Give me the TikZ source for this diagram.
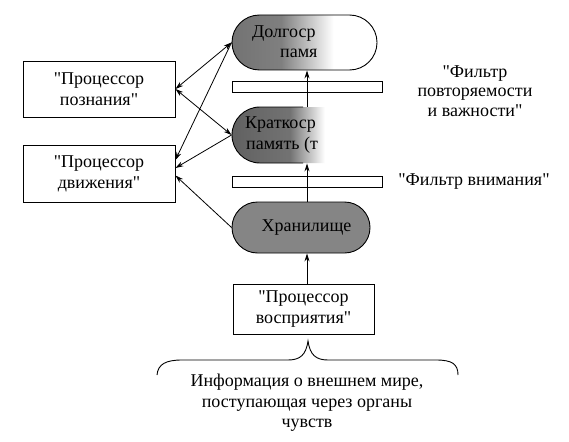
\documentclass[tikz,border=0pt]{standalone}
\usepackage{fontspec}
\setmainfont{LiberationSerif}[Extension=.ttf, UprightFont=*-Regular, BoldFont=*-Bold]
\newfontfamily\diagserif{LiberationSerif}[Extension=.ttf, UprightFont=*-Regular, BoldFont=*-Bold]
\usetikzlibrary{shapes.misc,arrows.meta}
\newcommand\mydiagfont{\diagserif\fontsize{18}{21}\selectfont}
\newcommand\qq{\textquotedbl}
\pgfdeclarehorizontalshading{fadeA}{100bp}{color(0bp)=(black!55); color(25bp)=(black!55); color(42bp)=(black!50); color(60bp)=(white); color(100bp)=(white)}
\pgfdeclarehorizontalshading{fadeB}{100bp}{color(0bp)=(black!62); color(25bp)=(black!62); color(45bp)=(black!55); color(57bp)=(white); color(100bp)=(white)}
\tikzset{
  pill/.style={rounded rectangle, minimum width=145pt, minimum height=55pt, inner sep=0pt, draw=black, line width=0.9pt},
  procbox/.style={draw, line width=0.9pt, minimum width=152pt, minimum height=56pt, align=center, font=\mydiagfont, inner sep=0pt},
  filterbar/.style={draw, line width=0.9pt, minimum width=150pt, minimum height=11pt, inner sep=0pt},
  arr/.style={-{Stealth[length=8pt,width=5pt]}, line width=0.8pt},
  dbl/.style={{Stealth[length=8pt,width=5pt]}-{Stealth[length=8pt,width=5pt]}, line width=0.8pt},
  txt/.style={font=\mydiagfont, inner sep=0pt}
}
\begin{document}
\begin{tikzpicture}[x=1pt,y=-1pt]
\useasboundingbox[fill=white] (0,0) rectangle (569,441);
% memory stores
\node[pill, shading=fadeA] (ltm) at (304.5,42.5) {};
\node[pill, draw=none, shading=fadeB, minimum height=56pt] (stm) at (304.5,135) {};
\begin{scope}
  \clip (225,100) rectangle (303,170);
  \node[pill, fill=none, minimum height=56pt] (stmedge) at (304.5,135) {};
\end{scope}
\node[pill, fill=black!48, minimum width=138pt, minimum height=51pt] (store) at (301,227.5) {};
% texts inside pills
\node[txt, anchor=base west] (ltmA) at (252,38) {Долгоср};
\node[txt, anchor=base west] (ltmB) at (280,58) {памя};
\node[txt, anchor=base west] (stmA) at (245,128) {Краткоср};
\node[txt, anchor=base west] (stmB) at (246,149) {память (т};
\node[txt] (storeT) at (306.5,228) {Хранилище};
% filters
\node[filterbar] (bar1) at (307,86.5) {};
\node[filterbar] (bar2) at (307,182) {};
\node[txt, align=center, font=\diagserif\fontsize{18}{19.5}\selectfont] (flt1) at (475,91) {\qq Фильтр\\повторяемости\\и важности\qq};
\node[txt] (flt2) at (474,182) {\qq Фильтр внимания\qq};
% processors
\node[procbox] (cog) at (99,89) {\qq Процессор\\познания\qq};
\node[procbox, minimum height=57pt] (mov) at (99,173.5) {\qq Процессор\\движения\qq};
\node[procbox, minimum width=141pt, minimum height=50pt] (perc) at (303.5,309) {\qq Процессор\\восприятия\qq};
% vertical flow
\draw[arr] (perc.north -| bar2.center) -- (store.south -| bar2.center);
\draw[arr] (store.north -| bar2.center) -- (stm.south -| bar2.center);
\draw[arr] (stm.north -| bar1.center) -- (ltm.south -| bar1.center);
% links to processors
\draw[dbl] (ltm.west) -- (cog.east);
\draw[dbl] (stm.west) -- (cog.east);
\draw[arr] (ltm.west) -- ([yshift=13.5pt]mov.east);
\draw[arr] (stm.west) -- ([yshift=5.5pt]mov.east);
\draw[arr] (store.west) -- ([yshift=-2pt]mov.east);
% brace
\draw[line width=0.9pt] (157,375) .. controls (158,364) and (166,360) .. (182,360)
  -- (288,360) .. controls (300,360) and (306,355) .. (308,341)
  .. controls (310,355) and (316,360) .. (328,360)
  -- (436,360) .. controls (452,360) and (458,364) .. (458,375);
\node[txt, align=center, font=\diagserif\fontsize{18}{20.5}\selectfont] (info) at (307,403) {Информация о внешнем мире,\\поступающая через органы\\чувств};
\end{tikzpicture}
\end{document}
